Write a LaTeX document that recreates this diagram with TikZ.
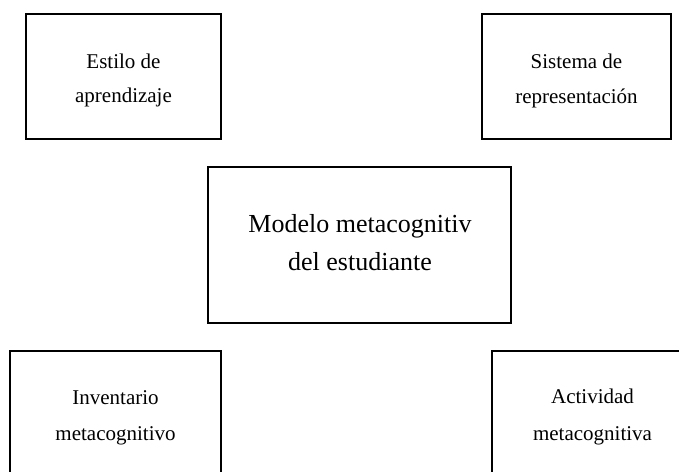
\documentclass[tikz,border=0pt]{standalone}
\usepackage{fontspec}
\setmainfont{Liberation Serif}
\begin{document}
\begin{tikzpicture}[x=1pt,y=-1pt,
  boxstyle/.style={draw=black,line width=2.8pt},
  smalltext/.style={anchor=base,inner sep=0pt,font=\fontsize{21}{25}\selectfont},
  bigtext/.style={anchor=base,inner sep=0pt,font=\fontsize{26}{30}\selectfont}]
\useasboundingbox (0,0) rectangle (679,471);
% boxes
\draw[boxstyle] (26,14) rectangle (221,139);
\draw[boxstyle] (482,14) rectangle (671,139);
\draw[boxstyle] (208,167) rectangle (511,323);
\draw[boxstyle] (10,480) -- (10,351) -- (221,351) -- (221,480);
\draw[boxstyle] (492,480) -- (492,351) -- (700,351);
% texts
\node[smalltext] (a1) at (123.5,68) {Estilo de};
\node[smalltext] (a2) at (123.5,102) {aprendizaje};
\node[smalltext] (b1) at (576.5,68) {Sistema de};
\node[smalltext] (b2) at (576.5,103) {representación};
\node[bigtext] (c1) at (360,232) {Modelo metacognitiv};
\node[bigtext] (c2) at (360,270) {del estudiante};
\node[smalltext] (d1) at (115.5,404) {Inventario};
\node[smalltext] (d2) at (115.5,440) {metacognitivo};
\node[smalltext] (e1) at (592.5,403) {Actividad};
\node[smalltext] (e2) at (592.5,440) {metacognitiva};
\end{tikzpicture}
\end{document}
